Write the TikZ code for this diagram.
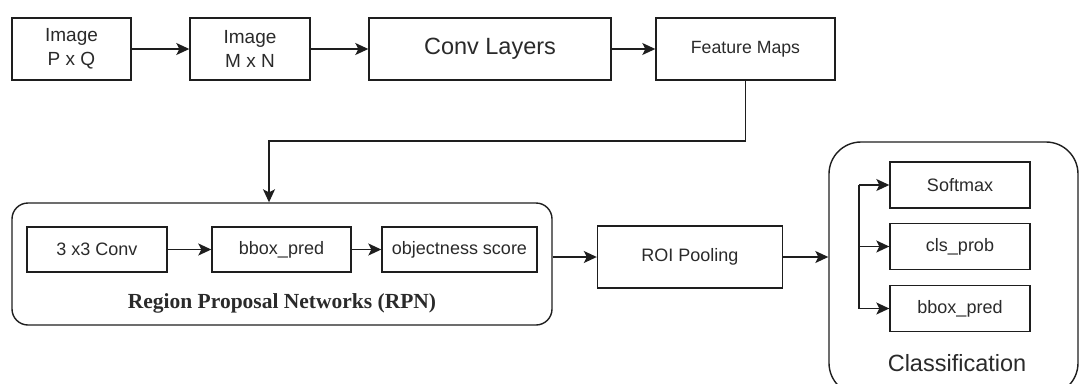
\documentclass[tikz,border=0pt]{standalone}
\usepackage{fontspec}
\setmainfont{Liberation Sans}
\newfontfamily\rpnfont{Liberation Serif}
\usetikzlibrary{arrows.meta,calc}
\definecolor{ink}{HTML}{1E1E1E}
\definecolor{txt}{HTML}{2A2A2A}
\tikzset{
  box/.style={draw=ink, line width=1.4pt, inner sep=0pt, align=center, text=txt,
    font=\fontsize{18}{22}\selectfont},
  group/.style={draw=ink, line width=1.4pt, inner sep=0pt},
  arr/.style={draw=ink, line width=1.4pt, -{Stealth[length=13pt,width=12pt,inset=3pt]}},
  line/.style={draw=ink, line width=1.4pt},
  lab/.style={text=txt, font=\fontsize{23.5}{28}\selectfont},
}

\begin{document}
\begin{tikzpicture}[x=1pt,y=-1pt]
  \useasboundingbox (0,0) rectangle (1079,383);
  \clip (0,0) rectangle (1079,383);
  % top row
  \node[box, minimum width=119pt, minimum height=62pt, font=\fontsize{19}{24}\selectfont] (img1) at (71.5,49) {Image\\P x Q};
  \node[box, minimum width=120pt, minimum height=62pt, font=\fontsize{19}{24}\selectfont] (img2) at (250,49) {Image\\M x N};
  \node[box, minimum width=242pt, minimum height=62pt, font=\fontsize{23.5}{28}\selectfont] (conv) at (490,49) {Conv Layers};
  \node[box, minimum width=179pt, minimum height=62pt, font=\fontsize{17.7}{21}\selectfont] (fmap) at (745.5,49) {Feature Maps};
  \draw[arr] (img1) -- (img2);
  \draw[arr] (img2) -- (conv);
  \draw[arr] (conv) -- (fmap);
  % region proposal network
  \node[group, rounded corners=16pt, minimum width=540pt, minimum height=122pt] (rpn) at (282,264) {};
  \node[box, minimum width=140pt, minimum height=45pt] (c33) at (97,249.5) {3 x3 Conv};
  \node[box, minimum width=139pt, minimum height=45pt] (bpred) at (281.5,249.5) {bbox\_pred};
  \node[box, minimum width=155pt, minimum height=45pt] (obj) at (459.5,249.5) {objectness score};
  \node[text=txt, font=\rpnfont\bfseries\fontsize{21.5}{26}\selectfont] (rpnlab) at (282,303) {Region Proposal Networks (RPN)};
  \draw[arr] (c33) -- (bpred);
  \draw[arr] (bpred) -- (obj);
  \coordinate (bend) at (269,141);
  \draw[arr] (fmap.south) |- (bend) -- (bend |- rpn.north);
  % pooling and classification
  \node[box, minimum width=185pt, minimum height=62pt] (roi) at (690,257) {ROI Pooling};
  \node[group, rounded corners=32pt, minimum width=249pt, minimum height=253pt] (cls) at (953.5,268.5) {};
  \node[box, minimum width=140pt, minimum height=46pt] (soft) at (960,185) {Softmax};
  \node[box, minimum width=140pt, minimum height=46pt] (prob) at (960,246.5) {cls\_prob};
  \node[box, minimum width=140pt, minimum height=46pt] (bbox) at (960,308.5) {bbox\_pred};
  \node[lab] (clslab) at (957,363) {Classification};
  \draw[arr] (roi.west -| rpn.east) -- (roi.west);
  \draw[arr] (roi.east) -- (roi.east -| cls.west);
  \coordinate (split) at (859,246.5);
  \draw[line] (split |- soft.west) -- (split |- bbox.west);
  \foreach \n in {soft,prob,bbox}
    \draw[arr] (split |- \n.west) -- (\n.west);
\end{tikzpicture}
\end{document}
